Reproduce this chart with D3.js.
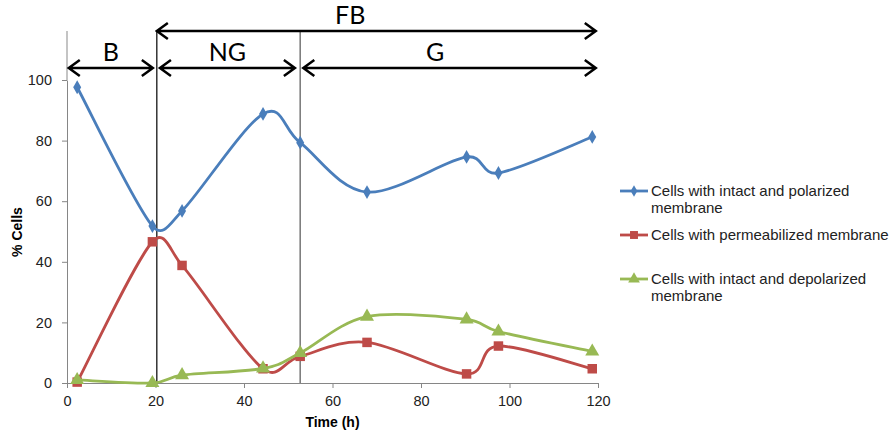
<!DOCTYPE html>
<html>
<head>
<meta charset="utf-8">
<script src="https://cdn.jsdelivr.net/npm/d3@7"></script>
<style>
body { margin: 0; background: #fff; }
svg { display: block; font-family: "Liberation Sans", Arial, sans-serif; }
.tick text { font-size: 14.5px; fill: #222; }
.axis path, .axis line { stroke: #868686; }
</style>
</head>
<body>
<script>
// Data
var hours = [2.3, 19.3, 26, 44.3, 52.7, 67.8, 90.3, 97.5, 118.7];
var polarized = [97.6, 51.8, 56.8, 88.8, 79.3, 63, 74.6, 69.3, 81.2];
var permeabilized = [0.3, 46.6, 38.8, 4.7, 8.8, 13.4, 3, 12.2, 4.7];
var depolarized = [1, 0, 2.6, 4.8, 9.9, 21.9, 21, 17, 10.4];
var seriesNames = ['Cells with intact and polarized membrane', 'Cells with permeabilized membrane', 'Cells with intact and depolarized membrane'];
var xTicks = [0, 20, 40, 60, 80, 100, 120];
var yTicks = [0, 20, 40, 60, 80, 100];
// phase boundaries (h) and labels
var phases = [
	{label: 'B', from: 0.4, to: 19.4, row: 1},
	{label: 'NG', from: 21, to: 51.5, row: 1},
	{label: 'G', from: 53.4, to: 119.5, row: 1},
	{label: 'FB', from: 20.3, to: 119.5, row: 0}
];
var dividers = [20.3, 52.7];

var margin = {top: 80, right: 297, bottom: 51, left: 67};
var width = 895 - margin.left - margin.right;
var height = 434 - margin.top - margin.bottom;

var svg = d3.select('body')
	.append('svg')
	.attr('width', 895)
	.attr('height', 434)
.append('g')
	.attr('transform', 'translate(' + margin.left + ',' + margin.top + ')');

var xScale = d3.scaleLinear().domain([0, 120]).range([0, width]);
var yScale = d3.scaleLinear().domain([0, 100]).range([height, 0]);

var xAxis = d3.axisBottom(xScale).tickValues(xTicks).tickSize(5).tickPadding(8).tickSizeOuter(0);
var yAxis = d3.axisLeft(yScale).tickValues(yTicks).tickSize(5).tickPadding(10).tickSizeOuter(0);

svg.append('g')
	.attr('class', 'x axis')
	.attr('transform', 'translate(0,' + height + ')')
	.call(xAxis);
svg.append('g')
	.attr('class', 'y axis')
	.call(yAxis);

// phase annotation lines
var rowY = [-49, -12];
svg.append('line')
	.attr('x1', 0).attr('x2', 0)
	.attr('y1', rowY[0]).attr('y2', 0)
	.attr('stroke', '#b0b0b0').attr('stroke-width', 1.5);
svg.selectAll('.divider')
	.data(dividers)
	.enter().append('line')
	.attr('class', 'divider')
	.attr('x1', function(d){ return xScale(d); })
	.attr('x2', function(d){ return xScale(d); })
	.attr('y1', rowY[0])
	.attr('y2', height)
	.attr('stroke', function(d, i){ return i == 0 ? '#000' : '#7f7f7f'; })
	.attr('stroke-width', function(d, i){ return i == 0 ? 1.2 : 1.6; });

var arrows = svg.selectAll('.phase')
	.data(phases)
	.enter().append('g')
	.attr('class', 'phase');
arrows.append('path')
	.attr('fill', 'none')
	.attr('stroke', '#000')
	.attr('stroke-width', 2.5)
	.attr('d', function(d){
		var x1 = xScale(d.from), x2 = xScale(d.to), y = rowY[d.row];
		return 'M' + x1 + ',' + y + 'H' + x2 +
			'M' + (x1 + 11) + ',' + (y - 8) + 'L' + x1 + ',' + y + 'L' + (x1 + 11) + ',' + (y + 8) +
			'M' + (x2 - 11) + ',' + (y - 8) + 'L' + x2 + ',' + y + 'L' + (x2 - 11) + ',' + (y + 8);
	});
arrows.append('text')
	.attr('x', function(d){
		if (d.label == 'FB') return xScale(64);
		if (d.label == 'G') return xScale(83.2);
		return (xScale(d.from) + xScale(d.to)) / 2;
	})
	.attr('y', function(d){ return rowY[d.row] - 7; })
	.attr('text-anchor', 'middle')
	.style('font-family', 'Lato, "Open Sans", sans-serif')
	.style('font-size', '25px')
	.text(function(d){ return d.label; });

// Excel-like smoothed line: bezier, control arms capped at half the segment
function smoothPath(pts) {
	var p = d3.path();
	function dist(a, b){ return Math.hypot(b[0] - a[0], b[1] - a[1]); }
	p.moveTo(pts[0][0], pts[0][1]);
	for (var i = 0; i < pts.length - 1; i++) {
		var p0 = pts[i > 0 ? i - 1 : i], p1 = pts[i], p2 = pts[i + 1], p3 = pts[i + 2 < pts.length ? i + 2 : i + 1];
		var d12 = dist(p1, p2), d02 = dist(p0, p2), d13 = dist(p1, p3);
		var f0 = 1 / 6, f1 = 1 / 6;
		if (d02 / 6 >= d12 / 2) f0 = d12 / (2 * d02);
		if (d13 / 6 >= d12 / 2) f1 = d12 / (2 * d13);
		p.bezierCurveTo(
			p1[0] + (p2[0] - p0[0]) * f0, p1[1] + (p2[1] - p0[1]) * f0,
			p2[0] - (p3[0] - p1[0]) * f1, p2[1] - (p3[1] - p1[1]) * f1,
			p2[0], p2[1]);
	}
	return p.toString();
}

// series
var colors = ['#4a7ebb', '#be4b48', '#98b954'];
var seriesData = [polarized, permeabilized, depolarized];
var symbols = [d3.symbolDiamond, d3.symbolSquare, d3.symbolTriangle];
var symbolSizes = [55, 90, 85];

seriesData.forEach(function(values, i){
	var pts = hours.map(function(h, j){ return [h, values[j]]; });
	svg.append('path')
		.attr('fill', 'none')
		.attr('stroke', colors[i])
		.attr('stroke-width', 2.8)
		.attr('d', smoothPath(pts.map(function(d){ return [xScale(d[0]), yScale(d[1])]; })));
	svg.selectAll('.pt' + i)
		.data(pts)
		.enter().append('path')
		.attr('class', 'pt' + i)
		.attr('transform', function(d){ return 'translate(' + xScale(d[0]) + ',' + yScale(d[1]) + ')'; })
		.attr('d', d3.symbol().type(symbols[i]).size(symbolSizes[i]))
		.attr('fill', colors[i]);
});

// axis titles
svg.append('text')
	.attr('x', width / 2)
	.attr('y', height + 44)
	.attr('text-anchor', 'middle')
	.style('font-weight', 'bold')
	.style('font-size', '14px')
	.text('Time (h)');
svg.append('text')
	.attr('transform', 'translate(-45,' + (152) + ') rotate(-90)')
	.attr('text-anchor', 'middle')
	.style('font-weight', 'bold')
	.style('font-size', '14px')
	.text('% Cells');

// legend
var legendLines = [
	['Cells with intact and polarized', 'membrane'],
	['Cells with permeabilized membrane'],
	['Cells with intact and depolarized', 'membrane']
];
var legendY = [111, 155, 199];
var legend = svg.selectAll('.legend')
	.data(seriesNames)
	.enter().append('g')
	.attr('class', 'legend')
	.attr('transform', function(d, i){ return 'translate(' + (width + 22) + ',' + legendY[i] + ')'; });
legend.append('line')
	.attr('x1', 0).attr('x2', 28)
	.attr('stroke', function(d, i){ return colors[i]; })
	.attr('stroke-width', 2.8);
legend.append('path')
	.attr('transform', 'translate(14,0)')
	.attr('d', function(d, i){ return d3.symbol().type(symbols[i]).size(symbolSizes[i] * 0.7)(); })
	.attr('fill', function(d, i){ return colors[i]; });
legend.append('text')
	.attr('x', 31)
	.attr('y', 5)
	.style('font-size', '15px')
	.style('fill', '#222')
	.selectAll('tspan')
	.data(function(d, i){ return legendLines[i]; })
	.enter().append('tspan')
	.attr('x', 31)
	.attr('dy', function(d, j){ return j == 0 ? 0 : 17; })
	.text(function(d){ return d; });
</script>
</body>
</html>
